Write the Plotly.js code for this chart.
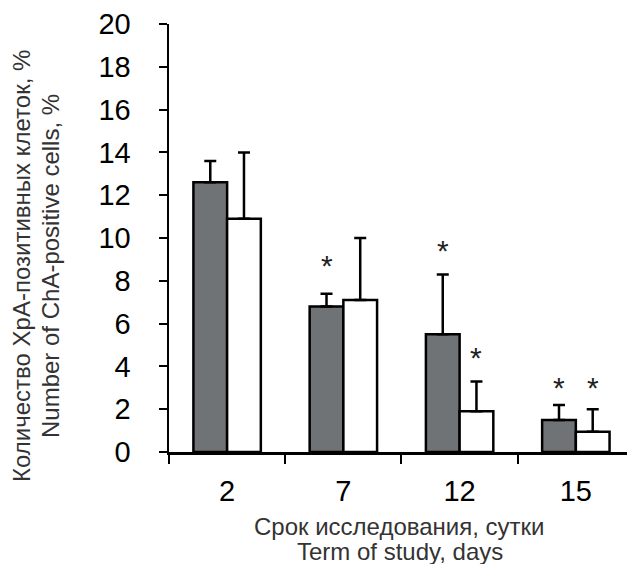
<!DOCTYPE html>
<html>
<head>
<meta charset="utf-8">
<script src="https://cdn.plot.ly/plotly-3.0.1.min.js"></script>
<style>html,body{margin:0;padding:0;background:#fff;}#chart{width:627px;height:564px;}</style>
</head>
<body>
<div id="chart"></div>
<script>
const categories = ["2", "7", "12", "15"];
const greyValues = [12.6, 6.8, 5.5, 1.5];
const greyErrors = [1.0, 0.6, 2.8, 0.7];
const whiteValues = [10.9, 7.1, 1.9, 0.95];
const whiteErrors = [3.1, 2.9, 1.4, 1.05];
const greyStars = [null, 8.9, 9.6, 3.2];
const whiteStars = [null, null, 4.6, 3.2];
const yTickValues = [0, 2, 4, 6, 8, 10, 12, 14, 16, 18, 20];
const xTitleLines = ["Срок исследования, сутки", "Term of study, days"];
const yTitleLines = ["Количество ХрА-позитивных клеток, %", "Number of ChA-positive cells, %"];

const zeros = categories.map(() => 0);
const barLine = {color: "#000", width: 2.5};
const errStyle = {type: "data", symmetric: false, thickness: 2.5, width: 6, color: "#000"};
const FONT = "Liberation Sans, Arial";

const traces = [
  {type: "bar", x: categories, y: greyValues, marker: {color: "#707376", line: barLine},
   error_y: Object.assign({array: greyErrors, arrayminus: zeros}, errStyle), hoverinfo: "none"},
  {type: "bar", x: categories, y: whiteValues, marker: {color: "#ffffff", line: barLine},
   error_y: Object.assign({array: whiteErrors, arrayminus: zeros}, errStyle), hoverinfo: "none"}
];

const annotations = [];
const starFont = {family: FONT, size: 30, color: "#222"};
categories.forEach((c, i) => {
  if (greyStars[i] !== null) annotations.push({x: i - 0.145, y: greyStars[i], xref: "x", yref: "y", text: "*", showarrow: false, font: starFont, yanchor: "middle", yshift: -4});
  if (whiteStars[i] !== null) annotations.push({x: i + 0.145, y: whiteStars[i], xref: "x", yref: "y", text: "*", showarrow: false, font: starFont, yanchor: "middle", yshift: -4});
});
const titleFont = {family: FONT, size: 24, color: "#333"};
annotations.push({xref: "paper", yref: "paper", x: 0.504, y: -0.175, xanchor: "center", yanchor: "middle",
  text: xTitleLines[0], showarrow: false, font: titleFont});
annotations.push({xref: "paper", yref: "paper", x: 0.504, y: -0.2336, xanchor: "center", yanchor: "middle",
  text: xTitleLines[1], showarrow: false, font: titleFont});
annotations.push({xref: "paper", yref: "paper", x: -0.321, y: 0.4346, xanchor: "center", yanchor: "middle",
  textangle: -90, text: yTitleLines[0], showarrow: false, font: titleFont});
annotations.push({xref: "paper", yref: "paper", x: -0.2576, y: 0.4346, xanchor: "center", yanchor: "middle",
  textangle: -90, text: yTitleLines[1], showarrow: false, font: titleFont});

const layout = {
  width: 627, height: 564,
  margin: {l: 169, r: 0, t: 24, b: 112},
  paper_bgcolor: "#fff", plot_bgcolor: "#fff",
  showlegend: false,
  barmode: "group", bargap: 0.42, bargroupgap: 0,
  font: {family: FONT, color: "#000"},
  xaxis: {type: "category", range: [-0.5, 3.44], showline: true, linecolor: "#000", linewidth: 2.5,
    ticks: "outside", tickson: "boundaries", ticklen: 9, tickwidth: 2, tickcolor: "#000",
    ticklabelstandoff: 12,
    tickfont: {size: 29, color: "#000"}, showgrid: false, zeroline: false, fixedrange: true},
  yaxis: {range: [0, 20], tickvals: yTickValues, showline: true, linecolor: "#000", linewidth: 2.5,
    ticks: "outside", ticklen: 8, tickwidth: 2, tickcolor: "#000", ticklabelstandoff: 22,
    tickfont: {size: 29, color: "#000"}, showgrid: false, zeroline: false, fixedrange: true},
  annotations: annotations
};

Plotly.newPlot("chart", traces, layout, {staticPlot: true, displayModeBar: false});
</script>
</body>
</html>
